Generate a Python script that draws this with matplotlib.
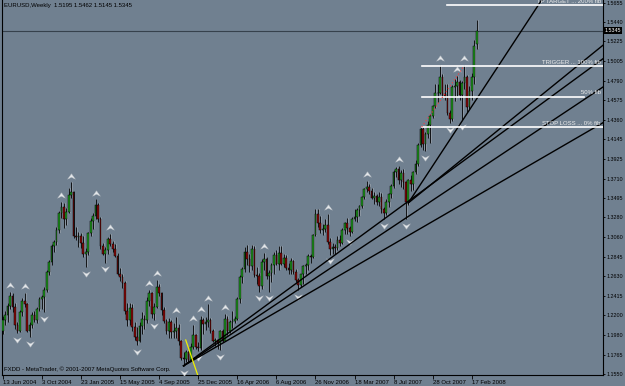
import matplotlib
matplotlib.use("Agg")
import matplotlib.pyplot as plt
from matplotlib.path import Path
from matplotlib.transforms import blended_transform_factory

# ----------------------------------------------------
# DATA: EURUSD weekly bars, 13 Jun 2004 .. 2 Mar 2008
# ----------------------------------------------------
opens = [
    1.2020, 1.2150, 1.2200, 1.2300, 1.2410, 1.2290, 1.2090, 1.2030, 1.2230, 1.2360,
    1.2320, 1.2030, 1.2090, 1.2200, 1.2150, 1.2270, 1.2380, 1.2400, 1.2480, 1.2680,
    1.2790, 1.2960, 1.3010, 1.3140, 1.3330, 1.3400, 1.3260, 1.3340, 1.3530, 1.3565,
    1.3080, 1.3060, 1.3080, 1.3000, 1.2880, 1.2900, 1.3110, 1.3240, 1.3300, 1.3420,
    1.3260, 1.2960, 1.2880, 1.2920, 1.3040, 1.2990, 1.2930, 1.2850, 1.2660, 1.2620,
    1.2560, 1.2250, 1.2150, 1.2280, 1.2070, 1.1960, 1.1920, 1.2080, 1.2160, 1.2150,
    1.2360, 1.2440, 1.2210, 1.2290, 1.2510, 1.2440, 1.2260, 1.2140, 1.2030, 1.2130,
    1.2010, 1.2030, 1.2060, 1.1910, 1.1730, 1.1720, 1.1790, 1.1710, 1.1850, 1.1980,
    1.1850, 1.1840, 1.2150, 1.2100, 1.2130, 1.2150, 1.2030, 1.1920, 1.1930, 1.1890,
    1.2030, 1.1920, 1.2160, 1.2020, 1.2120, 1.2140, 1.2160, 1.2380, 1.2620, 1.2710,
    1.2900, 1.2820, 1.2740, 1.2930, 1.2640, 1.2630, 1.2520, 1.2790, 1.2820, 1.2630,
    1.2670, 1.2760, 1.2870, 1.2770, 1.2890, 1.2770, 1.2830, 1.2720, 1.2700, 1.2800,
    1.2680, 1.2590, 1.2530, 1.2650, 1.2740, 1.2760, 1.2850, 1.2840, 1.3090, 1.3320,
    1.3220, 1.3140, 1.3150, 1.3200, 1.3010, 1.2930, 1.2950, 1.2940, 1.3030, 1.3000,
    1.3140, 1.3220, 1.3160, 1.3120, 1.3260, 1.3280, 1.3360, 1.3410, 1.3510, 1.3590,
    1.3620, 1.3570, 1.3500, 1.3520, 1.3450, 1.3510, 1.3370, 1.3330, 1.3450, 1.3540,
    1.3630, 1.3780, 1.3820, 1.3690, 1.3770, 1.3670, 1.3450, 1.3690, 1.3650, 1.3780,
    1.3870, 1.4080, 1.4260, 1.4090, 1.4200, 1.4300, 1.4400, 1.4510, 1.4650, 1.4660,
    1.4830, 1.4640, 1.4620, 1.4430, 1.4370, 1.4720, 1.4730, 1.4780, 1.4630, 1.4770,
    1.4830, 1.4500, 1.4680, 1.4830, 1.5195,
]
highs = [
    1.2190, 1.2250, 1.2330, 1.2460, 1.2440, 1.2330, 1.2120, 1.2260, 1.2390, 1.2450,
    1.2340, 1.2120, 1.2230, 1.2250, 1.2290, 1.2400, 1.2420, 1.2510, 1.2700, 1.2810,
    1.2990, 1.3030, 1.3180, 1.3350, 1.3455, 1.3440, 1.3380, 1.3610, 1.3667, 1.3570,
    1.3180, 1.3120, 1.3110, 1.3080, 1.2940, 1.3120, 1.3270, 1.3330, 1.3480, 1.3440,
    1.3290, 1.3000, 1.2950, 1.3060, 1.3100, 1.3020, 1.2990, 1.2890, 1.2720, 1.2650,
    1.2580, 1.2330, 1.2330, 1.2320, 1.2120, 1.2070, 1.2130, 1.2240, 1.2200, 1.2400,
    1.2480, 1.2460, 1.2330, 1.2590, 1.2550, 1.2460, 1.2290, 1.2160, 1.2170, 1.2150,
    1.2110, 1.2180, 1.2100, 1.1930, 1.1790, 1.1810, 1.1800, 1.1890, 1.2090, 1.1990,
    1.1900, 1.2190, 1.2170, 1.2180, 1.2320, 1.2170, 1.2050, 1.1950, 1.1940, 1.2040,
    1.2050, 1.2210, 1.2190, 1.2150, 1.2250, 1.2190, 1.2400, 1.2640, 1.2730, 1.2950,
    1.2980, 1.2880, 1.2980, 1.2970, 1.2730, 1.2670, 1.2820, 1.2890, 1.2840, 1.2700,
    1.2780, 1.2900, 1.2920, 1.2960, 1.2960, 1.2880, 1.2870, 1.2780, 1.2830, 1.2810,
    1.2710, 1.2610, 1.2660, 1.2760, 1.2780, 1.2880, 1.2880, 1.3100, 1.3370, 1.3370,
    1.3300, 1.3210, 1.3260, 1.3320, 1.3050, 1.3000, 1.2990, 1.3080, 1.3090, 1.3160,
    1.3230, 1.3270, 1.3190, 1.3290, 1.3370, 1.3380, 1.3420, 1.3520, 1.3610, 1.3680,
    1.3650, 1.3610, 1.3560, 1.3540, 1.3560, 1.3550, 1.3400, 1.3480, 1.3550, 1.3650,
    1.3800, 1.3840, 1.3850, 1.3800, 1.3810, 1.3680, 1.3700, 1.3750, 1.3790, 1.3920,
    1.4100, 1.4280, 1.4280, 1.4220, 1.4350, 1.4420, 1.4520, 1.4750, 1.4750, 1.4967,
    1.4870, 1.4760, 1.4750, 1.4470, 1.4740, 1.4810, 1.4840, 1.4800, 1.4790, 1.4967,
    1.4850, 1.4730, 1.4880, 1.5240, 1.5462,
]
lows = [
    1.1990, 1.2090, 1.2130, 1.2270, 1.2240, 1.2050, 1.2000, 1.2010, 1.2190, 1.2290,
    1.2010, 1.1960, 1.2060, 1.2120, 1.2110, 1.2250, 1.2270, 1.2230, 1.2460, 1.2640,
    1.2760, 1.2900, 1.2980, 1.3110, 1.3270, 1.3160, 1.3200, 1.3330, 1.3500, 1.3050,
    1.3030, 1.2950, 1.2940, 1.2840, 1.2730, 1.2870, 1.3070, 1.3150, 1.3260, 1.3230,
    1.2930, 1.2870, 1.2780, 1.2880, 1.2960, 1.2900, 1.2840, 1.2640, 1.2580, 1.2500,
    1.2210, 1.2080, 1.2090, 1.2020, 1.1930, 1.1870, 1.1900, 1.1990, 1.2050, 1.2110,
    1.2300, 1.2170, 1.2150, 1.2280, 1.2410, 1.2200, 1.2110, 1.1990, 1.1950, 1.1950,
    1.1950, 1.1950, 1.1870, 1.1710, 1.1640, 1.1680, 1.1680, 1.1700, 1.1830, 1.1830,
    1.1800, 1.1820, 1.1990, 1.2040, 1.2070, 1.2000, 1.1900, 1.1860, 1.1830, 1.1810,
    1.1900, 1.1910, 1.1980, 1.2000, 1.2060, 1.2110, 1.2150, 1.2340, 1.2560, 1.2680,
    1.2760, 1.2680, 1.2700, 1.2620, 1.2540, 1.2460, 1.2490, 1.2700, 1.2600, 1.2460,
    1.2570, 1.2660, 1.2760, 1.2700, 1.2760, 1.2730, 1.2700, 1.2660, 1.2650, 1.2660,
    1.2570, 1.2480, 1.2510, 1.2540, 1.2660, 1.2700, 1.2780, 1.2830, 1.3080, 1.3180,
    1.3110, 1.3090, 1.3120, 1.2990, 1.2870, 1.2880, 1.2880, 1.2920, 1.2960, 1.2990,
    1.3100, 1.3100, 1.3080, 1.3110, 1.3240, 1.3230, 1.3300, 1.3380, 1.3480, 1.3560,
    1.3540, 1.3480, 1.3430, 1.3420, 1.3410, 1.3330, 1.3260, 1.3310, 1.3400, 1.3500,
    1.3600, 1.3730, 1.3650, 1.3620, 1.3590, 1.3260, 1.3420, 1.3570, 1.3580, 1.3760,
    1.3850, 1.4060, 1.4030, 1.4010, 1.4160, 1.4100, 1.4380, 1.4490, 1.4560, 1.4640,
    1.4610, 1.4580, 1.4410, 1.4320, 1.4350, 1.4570, 1.4620, 1.4580, 1.4360, 1.4700,
    1.4440, 1.4480, 1.4580, 1.4760, 1.5145,
]
closes = [
    1.2150, 1.2200, 1.2300, 1.2410, 1.2290, 1.2090, 1.2030, 1.2230, 1.2360, 1.2320,
    1.2030, 1.2090, 1.2200, 1.2150, 1.2270, 1.2380, 1.2400, 1.2480, 1.2680, 1.2790,
    1.2960, 1.3010, 1.3140, 1.3330, 1.3400, 1.3260, 1.3340, 1.3530, 1.3565, 1.3080,
    1.3060, 1.3080, 1.3000, 1.2880, 1.2900, 1.3110, 1.3240, 1.3300, 1.3420, 1.3260,
    1.2960, 1.2880, 1.2920, 1.3040, 1.2990, 1.2930, 1.2850, 1.2660, 1.2620, 1.2560,
    1.2250, 1.2150, 1.2280, 1.2070, 1.1960, 1.1920, 1.2080, 1.2160, 1.2150, 1.2360,
    1.2440, 1.2210, 1.2290, 1.2510, 1.2440, 1.2260, 1.2140, 1.2030, 1.2130, 1.2010,
    1.2030, 1.2060, 1.1910, 1.1730, 1.1720, 1.1790, 1.1710, 1.1850, 1.1980, 1.1850,
    1.1840, 1.2150, 1.2100, 1.2130, 1.2150, 1.2030, 1.1920, 1.1930, 1.1890, 1.2030,
    1.1920, 1.2160, 1.2020, 1.2120, 1.2140, 1.2160, 1.2380, 1.2620, 1.2710, 1.2900,
    1.2820, 1.2740, 1.2930, 1.2640, 1.2630, 1.2520, 1.2790, 1.2820, 1.2630, 1.2670,
    1.2760, 1.2870, 1.2770, 1.2890, 1.2770, 1.2830, 1.2720, 1.2700, 1.2800, 1.2680,
    1.2590, 1.2530, 1.2650, 1.2740, 1.2760, 1.2850, 1.2840, 1.3090, 1.3320, 1.3220,
    1.3140, 1.3150, 1.3200, 1.3010, 1.2930, 1.2950, 1.2940, 1.3030, 1.3000, 1.3140,
    1.3220, 1.3160, 1.3120, 1.3260, 1.3280, 1.3360, 1.3410, 1.3510, 1.3590, 1.3620,
    1.3570, 1.3500, 1.3520, 1.3450, 1.3510, 1.3370, 1.3330, 1.3450, 1.3540, 1.3630,
    1.3780, 1.3820, 1.3690, 1.3770, 1.3670, 1.3450, 1.3690, 1.3650, 1.3780, 1.3870,
    1.4080, 1.4260, 1.4090, 1.4200, 1.4300, 1.4400, 1.4510, 1.4650, 1.4660, 1.4830,
    1.4640, 1.4620, 1.4430, 1.4370, 1.4720, 1.4730, 1.4780, 1.4630, 1.4770, 1.4830,
    1.4500, 1.4680, 1.4830, 1.5180, 1.5345,
]

date_ticks = [0, 16, 32, 48, 64, 80, 96, 112, 128, 144, 160, 176, 192]
date_labels = ["13 Jun 2004", "3 Oct 2004", "23 Jan 2005", "15 May 2005", "4 Sep 2005",
               "25 Dec 2005", "16 Apr 2006", "6 Aug 2006", "26 Nov 2006", "18 Mar 2007",
               "8 Jul 2007", "28 Oct 2007", "17 Feb 2008"]
price_ticks = [1.5655, 1.5440, 1.5225, 1.5005, 1.4790, 1.4575, 1.4360, 1.4145, 1.3925,
               1.3710, 1.3495, 1.3280, 1.3060, 1.2845, 1.2630, 1.2415, 1.2200, 1.1980,
               1.1765, 1.1550]
last_price = 1.5345

# fibonacci levels drawn on the chart (0%, 50%, 100%, 200%)
fib_levels = [1.4279, 1.4616, 1.4953, 1.5627]
fib_starts = [171.5, 171.5, 171.5, 182.0]
fib_ends = [245.7, 237.8, 245.7, 245.7]
fib_names = ["STOP LOSS ... 0% fib", "50% fib", "TRIGGER ... 100% fib", "TP TARGET ... 200% fib"]
fib_trend = [(171.5, 1.4279), (188.8, 1.4953)]

# trend / fan lines as (bar, price) anchor pairs
fan_lines = [
    [(74.0, 1.1640), (246.0, 1.4332)],
    [(74.0, 1.1640), (246.0, 1.4727)],
    [(74.0, 1.1640), (246.0, 1.5040)],
    [(166.0, 1.3440), (246.0, 1.5190)],
    [(166.0, 1.3440), (220.6, 1.5683)],
]
yellow_line = [(74.9, 1.1926), (79.8, 1.1539)]

# ----------------------------------------------------
# FIGURE SETUP
# ----------------------------------------------------
BG = "#708090"
UP = "#1f9a1f"
DOWN = "#8b0a0a"
SHADOW = "#8b96a2"
FONT = "Liberation Sans"
FS = 4.3
FS_AX = 3.9

fig = plt.figure(figsize=(6.25, 3.86), dpi=100)
fig.patch.set_facecolor(BG)
ax = fig.add_axes([2 / 625, 11 / 386, 601 / 625, 375 / 386])
ax.set_facecolor(BG)
ax.set_xlim(-0.3, 245.7)
ax.set_ylim(1.1539, 1.5683)

n = len(closes)
xs = list(range(n))

# ----------------------------------------------------
# CANDLES (with the faint grey ghost bars seen behind them)
# ----------------------------------------------------
ax.bar([i + 0.5 for i in xs], [h - l for h, l in zip(highs, lows)], bottom=lows,
       width=0.55, color=SHADOW, linewidth=0, zorder=2)
ax.vlines(xs, lows, highs, color="black", linewidth=0.6, zorder=3)
for i in xs:
    o, c = opens[i], closes[i]
    col = UP if c >= o else DOWN
    h = abs(c - o)
    if h < 0.0006:
        h = 0.0006
    ax.bar(i, h, bottom=min(o, c), width=0.7, color=col, edgecolor="black",
           linewidth=0.35, zorder=4)

# ----------------------------------------------------
# FRACTALS (5-bar rule)
# ----------------------------------------------------
chev_up = Path([(-1, -0.7), (0, 0.7), (1, -0.7), (0, -0.2), (-1, -0.7)],
               [Path.MOVETO, Path.LINETO, Path.LINETO, Path.LINETO, Path.CLOSEPOLY])
chev_dn = Path([(-1, 0.7), (0, -0.7), (1, 0.7), (0, 0.2), (-1, 0.7)],
               [Path.MOVETO, Path.LINETO, Path.LINETO, Path.LINETO, Path.CLOSEPOLY])
up_x, up_y, dn_x, dn_y = [], [], [], []
for i in range(2, n - 2):
    if highs[i] > max(highs[i - 2], highs[i - 1], highs[i + 1], highs[i + 2]):
        up_x.append(i)
        up_y.append(highs[i] + 0.0075)
    if lows[i] < min(lows[i - 2], lows[i - 1], lows[i + 1], lows[i + 2]):
        dn_x.append(i)
        dn_y.append(lows[i] - 0.0075)
ax.plot(up_x, up_y, linestyle="none", marker=chev_up, markersize=5.6,
        color="#e4e7ea", markeredgecolor="#b8bec4", markeredgewidth=0.3, zorder=5)
ax.plot(dn_x, dn_y, linestyle="none", marker=chev_dn, markersize=5.6,
        color="#e4e7ea", markeredgecolor="#b8bec4", markeredgewidth=0.3, zorder=5)

# ----------------------------------------------------
# TREND LINES, FIB LEVELS, PRICE LINE
# ----------------------------------------------------
for (x0, y0), (x1, y1) in fan_lines:
    ax.plot([x0, x1], [y0, y1], color="black", linewidth=1.0, zorder=6)
ax.plot([p[0] for p in yellow_line], [p[1] for p in yellow_line],
        color="#f0f000", linewidth=0.9, zorder=6)

ax.axhline(last_price, color="#36414c", linewidth=0.8, zorder=2)

for lvl, x0, x1, name in zip(fib_levels, fib_starts, fib_ends, fib_names):
    ax.plot([x0, x1], [lvl, lvl], color="white", linewidth=1.2, zorder=7)
    ax.text(244.8, lvl + 0.0012, name, fontsize=FS, family=FONT, color="#eeeeee",
            ha="right", va="bottom", zorder=8, clip_on=True)
ax.plot([p[0] for p in fib_trend], [p[1] for p in fib_trend], color="#ff3a3a",
        linestyle=(0, (1, 2.2)), linewidth=0.8, zorder=7)

# ----------------------------------------------------
# AXES, LABELS
# ----------------------------------------------------
for side in ["left", "right", "bottom"]:
    ax.spines[side].set_color("black")
    ax.spines[side].set_linewidth(0.8)
ax.spines["top"].set_visible(False)

ax.yaxis.tick_right()
ax.set_yticks(price_ticks)
ax.set_yticklabels([f"{p:.4f}" for p in price_ticks], fontsize=FS_AX, family=FONT)
ax.tick_params(axis="y", length=1.5, width=0.6, pad=0.8, colors="black")

ax.set_xticks(date_ticks)
ax.set_xticklabels(date_labels, fontsize=FS, family=FONT, ha="left")
ax.tick_params(axis="x", length=3, width=0.6, pad=0.5, colors="black")

trans = blended_transform_factory(ax.transAxes, ax.transData)
ax.text(1.003, last_price, "1.5345", transform=trans, fontsize=FS_AX, family=FONT,
        color="white", va="center", ha="left", zorder=9,
        bbox=dict(facecolor="black", edgecolor="none", pad=0.5))

ax.text(0.004, 0.992, "EURUSD,Weekly  1.5195 1.5462 1.5145 1.5345", transform=ax.transAxes,
        fontsize=FS, family=FONT, color="black", va="top", ha="left")
ax.text(0.003, 0.008, "FXDD - MetaTrader, \u00a9 2001-2007 MetaQuotes Software Corp.",
        transform=ax.transAxes, fontsize=FS, family=FONT, color="black", va="bottom", ha="left")

fig.savefig("out.png", dpi=100, facecolor=BG)
